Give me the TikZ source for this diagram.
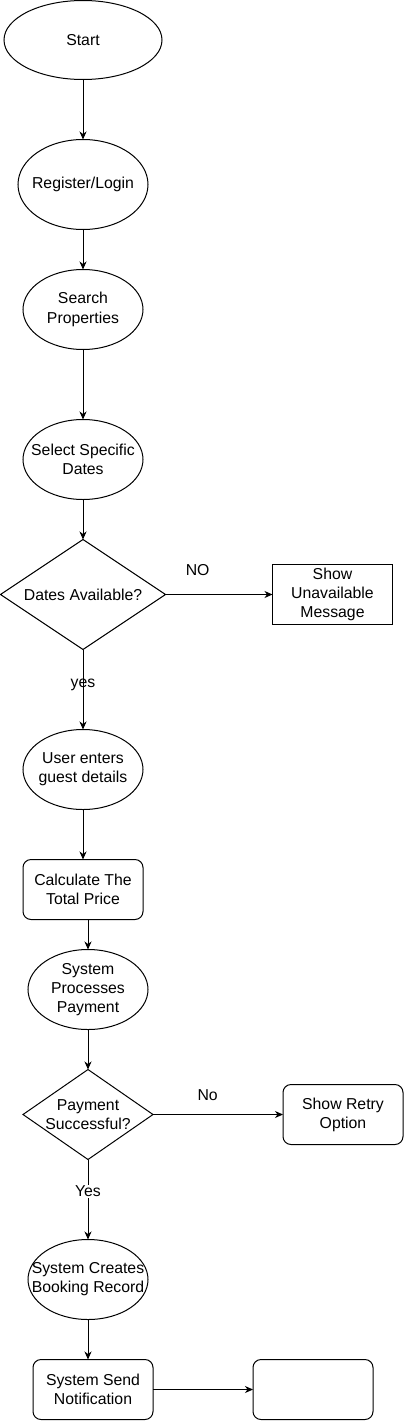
\documentclass[tikz,border=0pt]{standalone}
\usepackage{fontspec}
\setmainfont{Liberation Sans}
\usetikzlibrary{
    arrows.meta,
    positioning,
    shapes.geometric
}

\begin{document}
\begin{tikzpicture}[
  x=1pt, y=1pt,
  node distance = 40pt,
  >={Stealth[length=8pt, width=7pt, inset=2.5pt]},
  line width=1pt,
  every node/.style = {font=\fontsize{15.8}{19.2}\selectfont, align=center, outer sep=0pt},
  oval/.style     = {ellipse, draw, inner xsep=-25pt, inner ysep=0pt,
                     minimum width=120pt, minimum height=80pt},
  decision/.style = {diamond, draw, aspect=1.5, inner xsep=-30pt, inner ysep=0pt},
  box/.style      = {rectangle, draw, inner sep=2pt,
                     minimum width=120pt, minimum height=60pt},
  rbox/.style     = {box, rounded corners=8pt}
]
\useasboundingbox (0,0) rectangle (404,-1421);

% Nodes
\node[oval, minimum width=158pt, minimum height=79pt] (start) at (83,-40) {Start};
\node[oval, minimum width=130pt, minimum height=90pt, below=60pt of start] (reg) {Register/Login};
\node[oval, below=of reg] (search) {Search\\Properties};
\node[oval, below=70pt of search] (select) {Select Specific\\Dates};
\node[decision, minimum width=165pt, minimum height=110pt, below=of select] (avail) {Dates Available?};
\node[box, right=107pt of avail] (unavail) {Show\\Unavailable\\Message};
\node[oval, below=80pt of avail] (guest) {User enters\\guest details};
\node[rbox, below=50pt of guest] (price) {Calculate The\\Total Price};
\node[oval, below=30pt of price, xshift=5pt] (payproc) {System\\Processes\\Payment};
\node[decision, minimum width=130pt, minimum height=90pt, below=of payproc] (payok) {Payment\\Successful?};
\node[rbox, right=130pt of payok] (retry) {Show Retry\\Option};
\node[oval, below=80pt of payok] (booking) {System Creates\\Booking Record};
\node[rbox, below=of booking, xshift=5pt] (notify) {System Send\\Notification};
\node[rbox, right=100pt of notify] (blank) {};

% Main flow
\draw[->] (start) -- (reg);
\draw[->] (reg) -- (search);
\draw[->] (search) -- (select);
\draw[->] (select) -- (avail);
\draw[->] (avail) -- node[pos=0.44]{yes} (guest);
\draw[->] (guest) -- (price);
\draw[->] (price.south -| payproc) -- (payproc);
\draw[->] (payproc) -- (payok);
\draw[->] (payok) -- node[pos=0.4, fill=white, inner sep=1pt]{Yes} (booking);
\draw[->] (booking) -- (booking |- notify.north);
\draw[->] (notify) -- (blank);

% Side branches
\draw[->] (avail) -- node[pos=0.3, above=16pt]{NO} (unavail);
\draw[->] (payok) -- node[pos=0.42, above=11pt]{No} (retry);

\end{tikzpicture}
\end{document}
